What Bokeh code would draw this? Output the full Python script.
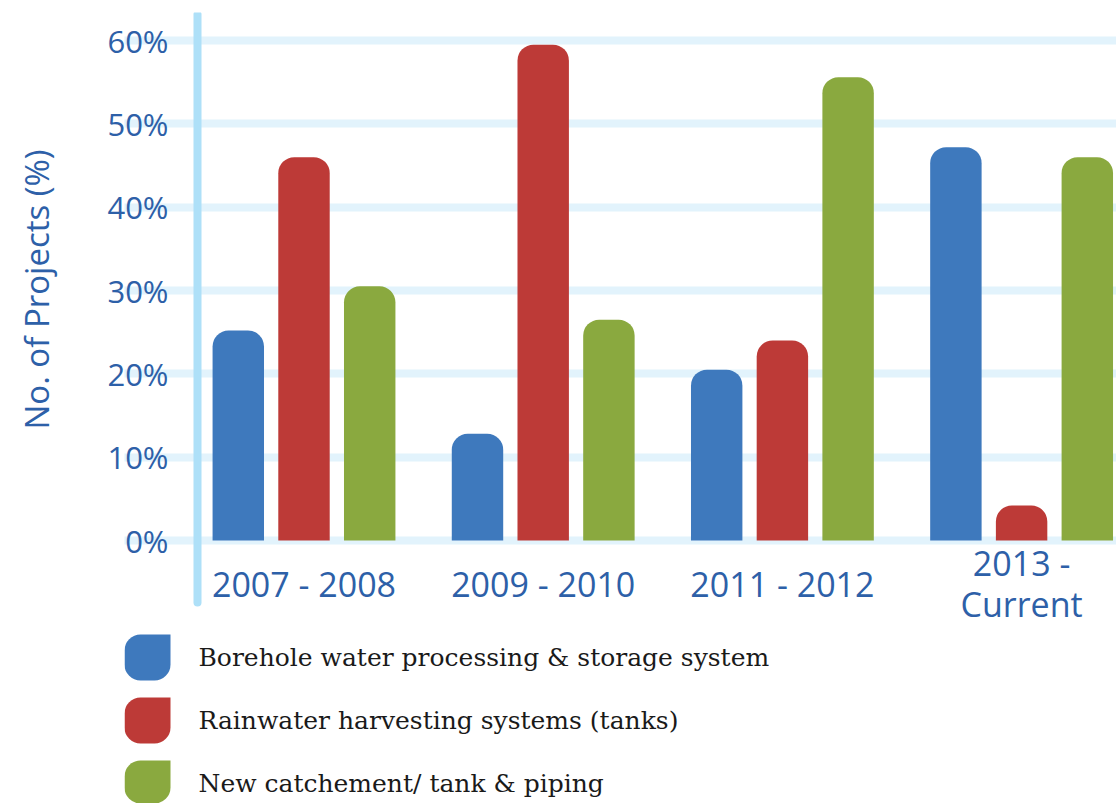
import math
from bokeh.plotting import figure
from bokeh.models import (Range1d, FixedTicker, PrintfTickFormatter, ColumnDataSource, Label)
from bokeh.core.properties import value
from bokeh.transform import dodge
from bokeh.embed import file_html
from bokeh.resources import INLINE

# ---- data ----
periods = ["2007 - 2008", "2009 - 2010", "2011 - 2012", "2013 -\nCurrent"]
borehole = [25.2, 12.8, 20.5, 47.2]
rainwater = [46.0, 59.5, 24.0, 4.2]
catchment = [30.5, 26.5, 55.6, 46.0]
series_names = ["Borehole water processing & storage system",
                "Rainwater harvesting systems (tanks)",
                "New catchement/ tank & piping"]
y_ticks = [0, 10, 20, 30, 40, 50, 60]

BLUE = "#3e79bd"
RED = "#bd3a37"
GREEN = "#8aa93f"
series_colors = [BLUE, RED, GREEN]
TXT = "#2d60a8"
GRID = "#e2f3fc"
VLINE = "#aee0f8"

# ---- layout helpers (page pixels -> data units) ----
GX0, GPX = 303.5, 239.2      # first group centre (px), px per group
Y0, YPX = 540.0, 8.3333      # 0% baseline (px), px per percent
def px2x(px): return (px - GX0) / GPX
def py2y(py): return (Y0 - py) / YPX

idx = list(range(len(periods)))
src = ColumnDataSource(dict(idx=idx, period=periods, borehole=borehole,
                            rainwater=rainwater, catchment=catchment))

p = figure(width=1116, height=803, output_backend="svg", toolbar_location=None,
           title=None, x_axis_location=None,
           x_range=Range1d(px2x(124), px2x(1116)), y_range=Range1d(py2y(803), py2y(12)),
           min_border_left=124, min_border_right=0, min_border_top=12, min_border_bottom=0)
p.outline_line_color = None
p.background_fill_color = "white"
p.border_fill_color = "white"

# grid
p.xgrid.visible = False
p.ygrid.ticker = FixedTicker(ticks=y_ticks)
p.ygrid.bounds = (px2x(182), px2x(1116))
p.ygrid.grid_line_color = GRID
p.ygrid.grid_line_width = 8
p.ygrid.grid_line_cap = "round"

# vertical accent line (axis spine)
p.segment(x0=[px2x(197)], y0=[py2y(602)], x1=[px2x(197)], y1=[py2y(14)],
          line_color=VLINE, line_width=8, line_cap="round")

off = 0.2747
bw = 0.215
rad = (16, 16, 0, 0)
for col, color, d in [("borehole", BLUE, -off), ("rainwater", RED, 0), ("catchment", GREEN, off)]:
    p.vbar(x=dodge("idx", d, range=p.x_range), top=col, bottom=0, width=bw,
           source=src, fill_color=color, line_color=None, border_radius=rad)

# category labels (centred vertically under each group)
p.text(x="idx", y=py2y(583), text="period", source=src, text_align="center",
       text_baseline="middle", text_font=value("Open Sans"), text_font_size="34px",
       text_color=TXT, text_line_height=0.9)

# y axis
ya = p.yaxis[0]
ya.ticker = FixedTicker(ticks=y_ticks)
ya.formatter = PrintfTickFormatter(format="%d%%")
ya.axis_line_color = None
ya.major_tick_line_color = None
ya.minor_tick_line_color = None
ya.major_tick_out = 0
ya.major_tick_in = 0
ya.major_label_standoff = -44
ya.major_label_text_font = "Open Sans"
ya.major_label_text_font_size = "31px"
ya.major_label_text_color = TXT

# y axis title
p.add_layout(Label(x=36, y=289, x_units="canvas", y_units="canvas",
                   text="No. of Projects (%)", angle=math.pi / 2,
                   text_align="center", text_baseline="middle",
                   text_font="Open Sans", text_font_size="33px", text_color=TXT), "left")

# ---- legend ----
row_y = [py2y(657 + 63 * i) for i in range(len(series_names))]
lsrc = ColumnDataSource(dict(y=row_y, name=series_names, color=series_colors))
p.hbar(y="y", height=46 / YPX, left=px2x(124), right=px2x(170), source=lsrc,
       fill_color="color", line_color=None, border_radius=(16, 0, 16, 16))
p.text(x=px2x(198), y="y", text="name", source=lsrc, text_align="left",
       text_baseline="middle", text_font=value("DejaVu Serif"), text_font_size="25px",
       text_color="#1a1a1a")

open("out.html", "w").write(file_html(p, INLINE))
